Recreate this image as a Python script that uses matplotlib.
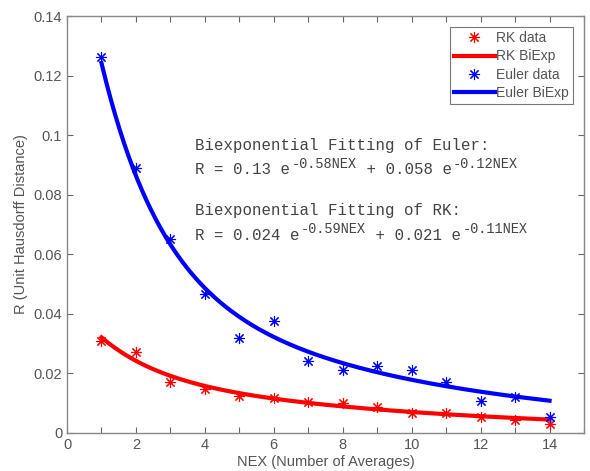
import numpy as np
import matplotlib
matplotlib.use("Agg")
import matplotlib.pyplot as plt

nex = [1, 2, 3, 4, 5, 6, 7, 8, 9, 10, 11, 12, 13, 14]
euler_data = [0.1262, 0.0890, 0.0651, 0.0467, 0.0319, 0.0376, 0.0242, 0.0212,
              0.0225, 0.0212, 0.0171, 0.0107, 0.0121, 0.0054]
rk_data = [0.0309, 0.0272, 0.0171, 0.0148, 0.0124, 0.0118, 0.0104, 0.0101,
           0.0087, 0.0067, 0.0067, 0.0054, 0.0044, 0.0030]
# biexponential fit coefficients (a1, b1, a2, b2) as printed on the chart
euler_fit = [0.13, 0.58, 0.058, 0.12]
rk_fit = [0.024, 0.59, 0.021, 0.11]

def biexp(x, c):
    return c[0] * np.exp(-c[1] * x) + c[2] * np.exp(-c[3] * x)

xs = np.linspace(1, 14, 200)

plt.rcParams['font.family'] = ['Liberation Sans', 'DejaVu Sans']
fig = plt.figure(figsize=(5.9, 4.71), dpi=100)
ax = fig.add_axes([67/590, 1-433/471, (584-67)/590, (433-16)/471])

gray = '#666666'
ast = (8, 2, 0)
ax.plot(nex, rk_data, linestyle='none', marker=ast, color='red', markersize=8,
        markeredgewidth=0.8, label='RK data')
ax.plot(xs, biexp(xs, rk_fit), color='red', linewidth=3, label='RK BiExp')
ax.plot(nex, euler_data, linestyle='none', marker=ast, color='blue', markersize=8,
        markeredgewidth=0.8, label='Euler data')
ax.plot(xs, biexp(xs, euler_fit), color='blue', linewidth=3, label='Euler BiExp')

ax.set_xlim(0, 15)
ax.set_ylim(0, 0.14)
xt = list(range(0, 16))
ax.set_xticks(xt)
ax.set_xticklabels([str(v) if v % 2 == 0 and v <= 14 else '' for v in xt])
yt = [0, 0.02, 0.04, 0.06, 0.08, 0.1, 0.12, 0.14]
ax.set_yticks(yt)
ax.set_yticklabels(['0', '0.02', '0.04', '0.06', '0.08', '0.1', '0.12', '0.14'])
ax.tick_params(direction='in', top=True, right=True, length=4, width=0.8,
               colors=gray, labelsize=10.5, labelcolor='#555555')
for s in ax.spines.values():
    s.set_color('#888888')
    s.set_linewidth(1)

ax.set_xlabel('NEX (Number of Averages)', fontsize=10.5, color='#555555', labelpad=2)
ax.set_ylabel('R (Unit Hausdorff Distance)', fontsize=10.5, color='#555555', labelpad=4)

mono_fam = ['Liberation Mono', 'DejaVu Sans Mono']
base_fs = 11.3
sup_fs = 9.85
tcol = '#444444'

def rich_line(x, y, parts):
    """parts: list of (text, is_sup). Monospace layout with offsets in points."""
    off = 0.0
    for txt, sup in parts:
        fs = sup_fs if sup else base_fs
        dy = 4.5 if sup else 0.0
        if sup:
            off += 1.4
        ax.annotate(txt, xy=(x, y), xytext=(off, dy), textcoords='offset points',
                    family=mono_fam, fontsize=fs, color=tcol, va='center', ha='left')
        off += 0.6 * fs * len(txt)

tx = 3.72
ax.text(tx, 0.0966, 'Biexponential Fitting of Euler:', family=mono_fam,
        fontsize=base_fs, color=tcol, va='center')
rich_line(tx, 0.0883, [('R = 0.13 e', False), ('-0.58NEX', True),
                       (' + 0.058 e', False), ('-0.12NEX', True)])
ax.text(tx, 0.0748, 'Biexponential Fitting of RK:', family=mono_fam,
        fontsize=base_fs, color=tcol, va='center')
rich_line(tx, 0.0664, [('R = 0.024 e', False), ('-0.59NEX', True),
                       (' + 0.021 e', False), ('-0.11NEX', True)])

leg = ax.legend(loc='upper right', fontsize=10, handlelength=2.9, handletextpad=0.1,
                borderpad=0.3, labelspacing=0.3, fancybox=False, framealpha=1,
                edgecolor='#777777', borderaxespad=0.8)
leg.get_frame().set_linewidth(0.8)
for t in leg.get_texts():
    t.set_color('#555555')

fig.savefig('out.png', dpi=100)
